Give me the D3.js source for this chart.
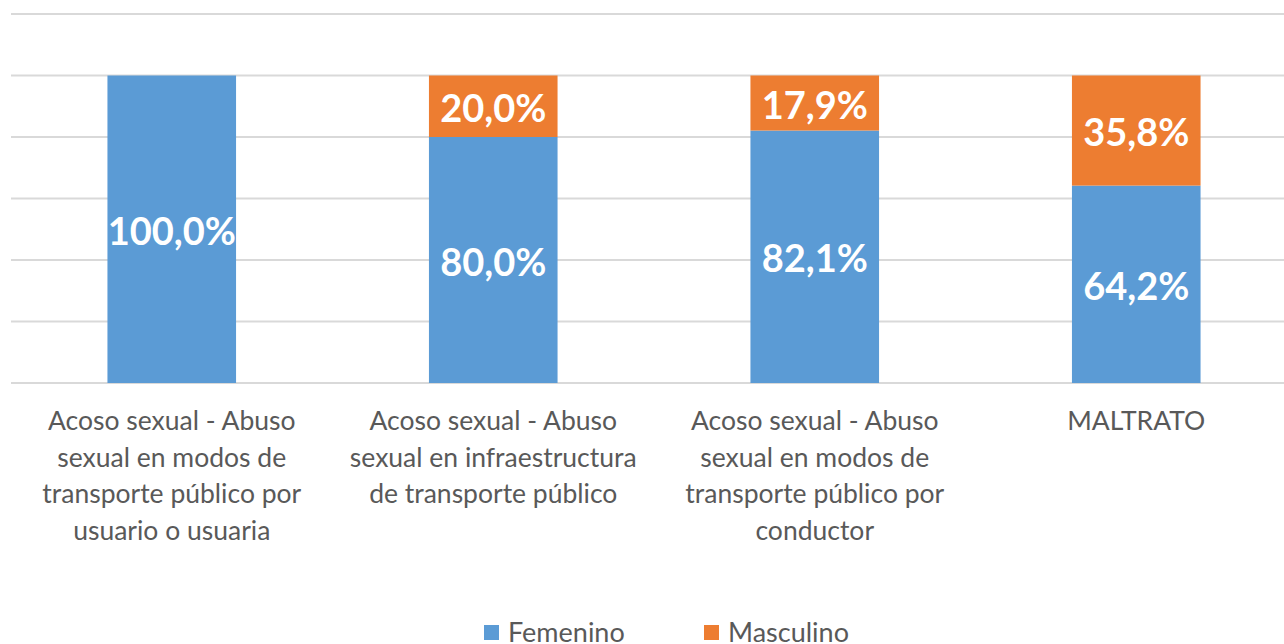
<!DOCTYPE html>
<html>
<head>
<meta charset="utf-8">
<script src="https://cdn.jsdelivr.net/npm/d3@7"></script>
<style>
body { margin: 0; background: #fff; }
svg { display: block; font-family: Lato, "Open Sans", sans-serif; }
.grid line { stroke: #d9d9d9; stroke-width: 2; }
.cat text { fill: #595959; font-size: 26.5px; }
.lbl { fill: #fff; font-weight: bold; font-size: 38px; }
.legend text { fill: #595959; font-size: 27px; }
</style>
</head>
<body>
<svg width="1284" height="644"></svg>
<script>
const width = 1284
const height = 644
const margin = { top: 14, bottom: 261, left: 11, right: -13 }

// data
const categories = [
  ["Acoso sexual - Abuso", "sexual en modos de", "transporte público por", "usuario o usuaria"],
  ["Acoso sexual - Abuso", "sexual en infraestructura", "de transporte público"],
  ["Acoso sexual  - Abuso", "sexual en modos de", "transporte público por", "conductor"],
  ["MALTRATO"]
]
const femenino = [100.0, 80.0, 82.1, 64.2]
const masculino = [0, 20.0, 17.9, 35.8]
const seriesNames = ["Femenino", "Masculino"]
const colors = ["#5b9bd5", "#ed7d31"]
const yTicks = [0, 20, 40, 60, 80, 100, 120]

const svg = d3.select("svg")

const x = d3.scaleBand().domain(d3.range(categories.length))
  .range([margin.left, width - margin.right])
  .paddingInner(0.6).paddingOuter(0.3)
const y = d3.scaleLinear().domain([0, 120])
  .range([height - margin.bottom, margin.top])

// gridlines
svg.append("g").attr("class", "grid")
  .selectAll("line").data(yTicks).enter().append("line")
  .attr("x1", margin.left).attr("x2", width)
  .attr("y1", d => y(d)).attr("y2", d => y(d))

const rows = categories.map((c, i) => ({ i: i, f: femenino[i], m: masculino[i] }))
const stack = d3.stack().keys(["f", "m"])(rows)

const layers = svg.append("g").selectAll("g").data(stack).enter().append("g")
  .attr("fill", (d, k) => colors[k])

layers.selectAll("rect").data(d => d.filter(s => s[1] - s[0] > 0)).enter().append("rect")
  .attr("x", d => x(d.data.i))
  .attr("width", x.bandwidth())
  .attr("y", d => y(d[1]))
  .attr("height", d => y(d[0]) - y(d[1]))

layers.selectAll("text").data(d => d.filter(s => s[1] - s[0] > 0)).enter().append("text")
  .attr("class", "lbl")
  .attr("text-anchor", "middle")
  .attr("dy", "0.36em")
  .attr("x", d => x(d.data.i) + x.bandwidth() / 2)
  .attr("y", d => y((d[0] + d[1]) / 2) + 2)
  .text(d => d3.format(".1f")(d[1] - d[0]).replace(".", ",") + "%")

// category labels
const cat = svg.append("g").attr("class", "cat")
categories.forEach(function (lines, i) {
  const t = cat.append("text").attr("text-anchor", "middle")
    .attr("x", x(i) + x.bandwidth() / 2).attr("y", 430)
  lines.forEach(function (s, j) {
    t.append("tspan").attr("x", x(i) + x.bandwidth() / 2)
      .attr("dy", j === 0 ? 0 : 36.5).text(s)
  })
})

// legend
const legendX = [484, 704]
const legend = svg.append("g").attr("class", "legend")
seriesNames.forEach(function (n, k) {
  legend.append("rect").attr("x", legendX[k]).attr("y", 625)
    .attr("width", 15).attr("height", 15).attr("fill", colors[k])
  legend.append("text").attr("x", legendX[k] + 24).attr("y", 642).text(n)
})
</script>
</body>
</html>
